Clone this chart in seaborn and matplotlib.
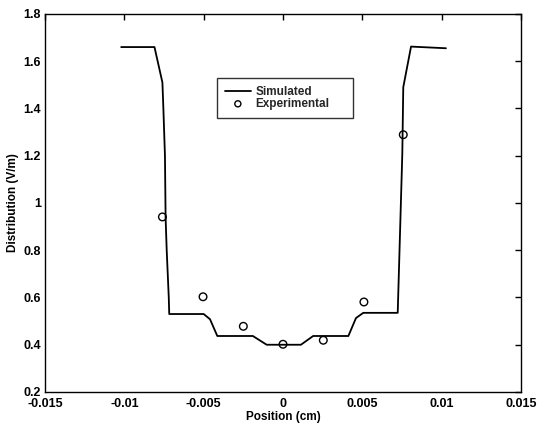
import matplotlib
matplotlib.use("Agg")
import matplotlib.pyplot as plt
import seaborn as sns
import pandas as pd
from matplotlib.ticker import FixedLocator, FuncFormatter

# Simulated field distribution across the gap (position in cm)
sim_x = [-0.0102, -0.0081, -0.0076, -0.00754, -0.00744, -0.0074, -0.00733, -0.0072,
         -0.00717, -0.0050, -0.0046, -0.00414, -0.0019, -0.00103, 0.00113, 0.0019,
         0.00412, 0.0046, 0.00506, 0.00723, 0.00752, 0.00758, 0.00807, 0.01027]
sim_y = [1.66, 1.66, 1.51, 1.40, 1.20, 0.94, 0.80, 0.60,
         0.53, 0.53, 0.508, 0.437, 0.437, 0.40, 0.40, 0.437,
         0.437, 0.513, 0.535, 0.535, 1.21, 1.49, 1.662, 1.655]

# Measured values
exp_x = [-0.0076, -0.00504, -0.0025, 0.0, 0.00254, 0.0051, 0.00758]
exp_y = [0.941, 0.603, 0.478, 0.402, 0.419, 0.581, 1.289]

x_ticks = [-0.015, -0.01, -0.005, 0, 0.005, 0.01, 0.015]
y_ticks = [0.2, 0.4, 0.6, 0.8, 1.0, 1.2, 1.4, 1.6, 1.8]

sim_df = pd.DataFrame({"pos": sim_x, "dist": sim_y})
exp_df = pd.DataFrame({"pos": exp_x, "dist": exp_y})

sns.set_theme(style="white")
plt.rcParams["font.family"] = ["Liberation Sans", "DejaVu Sans"]
plt.rcParams["font.weight"] = "bold"

fig = plt.figure(figsize=(5.39, 4.24), dpi=100)
ax = fig.add_axes([0.0835, 0.0755, 0.8831, 0.8915])

sns.lineplot(data=sim_df, x="pos", y="dist", sort=False, color="black",
             linewidth=1.3, ax=ax, label="Simulated")
sns.scatterplot(data=exp_df, x="pos", y="dist", marker="o", s=30,
                facecolor="none", edgecolor="black", linewidth=1.0,
                ax=ax, label="Experimental")

ax.set_xlim(-0.015, 0.015)
ax.set_ylim(0.2, 1.8)
ax.xaxis.set_major_locator(FixedLocator(x_ticks))
ax.yaxis.set_major_locator(FixedLocator(y_ticks))
fmt = FuncFormatter(lambda v, p: "%g" % round(v, 6))
ax.xaxis.set_major_formatter(fmt)
ax.yaxis.set_major_formatter(fmt)

ax.tick_params(direction="in", length=4, width=1, top=True, right=True,
               labelsize=9, colors="black", pad=3)
ax.tick_params(axis="x", pad=4)
for t in ax.get_xticklabels() + ax.get_yticklabels():
    t.set_fontweight("bold")
for s in ax.spines.values():
    s.set_color("black")
    s.set_linewidth(1.0)

ax.set_xlabel("Position (cm)", fontsize=8.5, fontweight="bold", color="black", labelpad=1)
ax.set_ylabel("Distribution (V/m)", fontsize=8.5, fontweight="bold", color="black", labelpad=3)

leg = ax.legend(loc="upper left", bbox_to_anchor=(0.361, 0.728, 0.286, 0.103),
                mode="expand", frameon=True, fancybox=False, fontsize=8.5,
                handlelength=2.2, borderpad=0.68, labelspacing=0.0,
                handletextpad=0.4, borderaxespad=0, markerscale=0.8)
leg.get_frame().set_edgecolor("black")
leg.get_frame().set_linewidth(1.0)
for t in leg.get_texts():
    t.set_fontweight("bold")

fig.savefig("out.png", dpi=100, facecolor="white")
